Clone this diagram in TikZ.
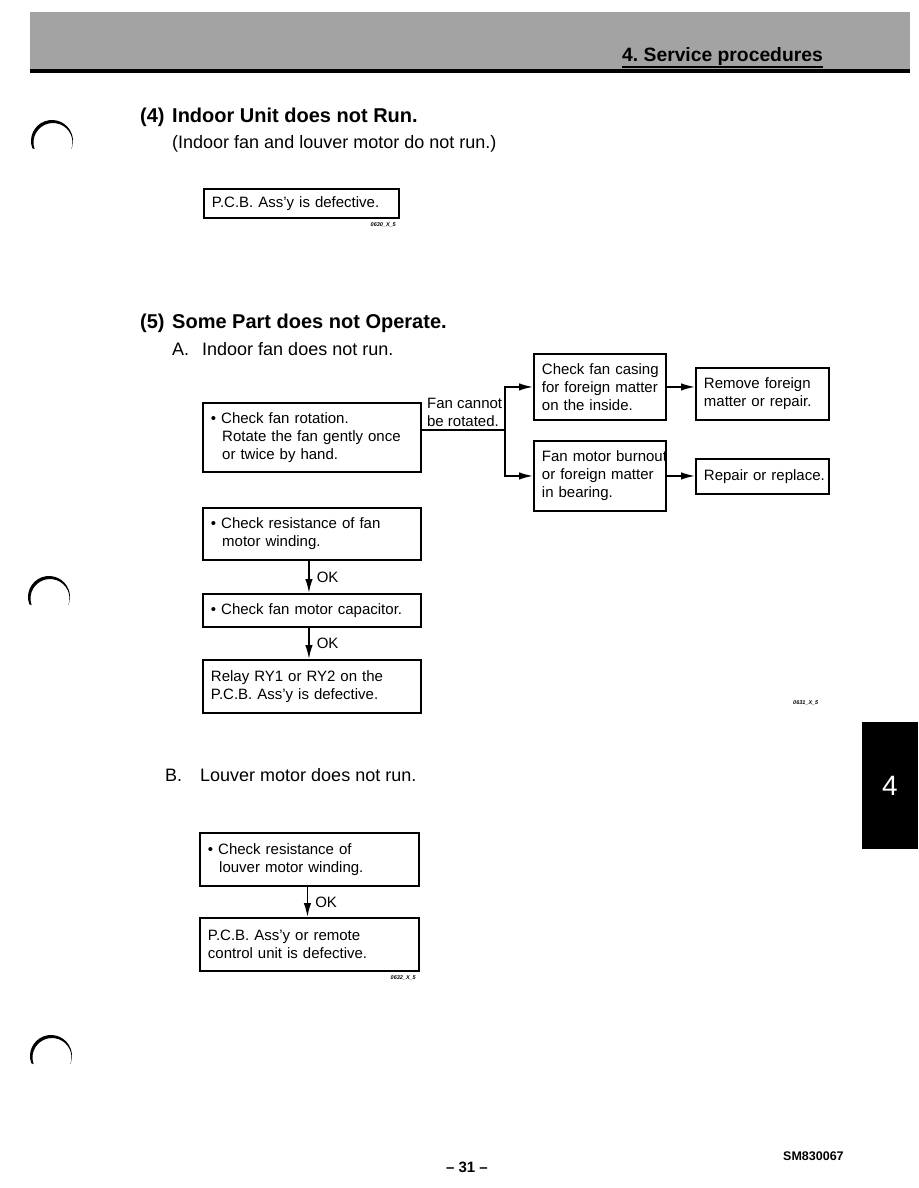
\documentclass[tikz,border=0pt]{standalone}
\usepackage{fontspec}
\setmainfont{Liberation Sans}
\usetikzlibrary{arrows.meta}
\begin{document}
\begin{tikzpicture}[x=1pt,y=-1pt,
  box/.style={draw, line width=1.9pt, anchor=north west, align=left,
    inner xsep=8pt, inner ysep=0pt,
    font=\fontsize{15}{18}\selectfont,
    execute at begin node=\hyphenpenalty10000\relax\exhyphenpenalty10000\relax},
  conn/.style={line width=1.6pt},
  arr/.style={-{Latex[length=14pt,width=7.5pt]}},
  lbl/.style={font=\fontsize{15}{18}\selectfont, inner sep=0pt},
  code/.style={font=\fontsize{5.5}{6}\bfseries\itshape, inner sep=0pt},
  head/.style={font=\fontsize{20}{24}\bfseries\selectfont, inner sep=0pt, anchor=base west},
  sub/.style={font=\fontsize{18}{22}\selectfont, inner sep=0pt, anchor=base west}]
\useasboundingbox (0,0) rectangle (918,1188);

% header band
\fill[black!36] (30,12) rectangle (910,71);
\fill[black] (30,69) rectangle (910,73);
\node[font=\fontsize{19.3}{22}\bfseries\selectfont, inner sep=0pt, anchor=base west] (hdr) at (622,62) {4.\ Service procedures};
\draw[line width=1.8pt] (hdr.base west |- 0,67) -- (hdr.base east |- 0,67);

% punch holes (crescents)
\coordinate (p1) at (52,141);
\coordinate (p2) at (49,597);
\coordinate (p3) at (51,1056);
\foreach \p in {p1,p2,p3}{
  \fill (\p) ++(160:21) arc[start angle=160,end angle=380,radius=21]
    -- ++(-0.41,0.99) arc[start angle=380,end angle=160,radius=19.5] -- cycle;
}

% section (4)
\node[head] (n4) at (140,123) {(4)};
\node[head] (h4) at (172,123) {Indoor Unit does not Run.};
\node[sub] (s4) at (172,148) {(Indoor fan and louver motor do not run.)};
\node[box, minimum width=195pt, text width=179pt, minimum height=29pt] (pcb) at (203,188) {P.C.B. Ass'y is defective.};
\node[code, anchor=north east] (c1) at (396,222) {0630\_X\_5};

% section (5)
\node[head] (n5) at (140,328) {(5)};
\node[head] (h5) at (172,328) {Some Part does not Operate.};
\node[sub] (a5) at (172,355) {A.};
\node[sub] (a5t) at (202,355) {Indoor fan does not run.};

\node[box, minimum width=218pt, text width=202pt, minimum height=69pt] (rot) at (202,402)
  {• Check fan rotation.\\\hspace*{0.75em}Rotate the fan gently once\\\hspace*{0.75em}or twice by hand.};
\node[box, minimum width=132pt, text width=116pt, minimum height=66pt] (casing) at (533,353)
  {Check~fan~casing\\for~foreign~matter\\on the inside.};
\node[box, minimum width=133pt, text width=117pt, minimum height=52pt] (remove) at (695,367)
  {Remove~foreign\\matter~or~repair.};
\node[box, minimum width=132pt, text width=116pt, minimum height=70pt] (motor) at (533,440)
  {Fan~motor~burnout\\or~foreign~matter\\in bearing.};
\node[box, minimum width=133pt, text width=117pt, minimum height=35pt] (replace) at (695,458)
  {Repair~or~replace.};

\coordinate (j1) at (505,430);
\draw[conn] (rot.east |- j1) -- (j1);
\node[lbl, anchor=south west, align=left, inner xsep=5pt, inner ysep=3pt] (fc) at (rot.east |- j1) {Fan cannot\\be rotated.};
\draw[conn,arr] (j1) |- (casing.west);
\draw[conn,arr] (j1) |- (motor.west);
\draw[conn,arr] (casing.east) -- (casing.east -| remove.west);
\draw[conn,arr] (motor.east) -- (motor.east -| replace.west);

\node[box, minimum width=218pt, text width=202pt, minimum height=52pt] (resfan) at (202,507)
  {• Check resistance of fan\\\hspace*{0.75em}motor winding.};
\node[box, minimum width=218pt, text width=202pt, minimum height=33pt] (cap) at (202,593)
  {• Check fan motor capacitor.};
\node[box, minimum width=218pt, text width=202pt, minimum height=53pt] (relay) at (202,659)
  {Relay RY1 or RY2 on the\\P.C.B. Ass'y is defective.};
\draw[conn,arr] ([xshift=-3pt]resfan.south) -- node[lbl, right=7pt] {OK} ([xshift=-3pt]cap.north);
\draw[conn,arr] ([xshift=-3pt]cap.south) -- node[lbl, right=7pt] {OK} ([xshift=-3pt]relay.north);
\node[code, anchor=west] (c2) at (793,703) {0631\_X\_5};

% B
\node[sub] (b5) at (165,781) {B.};
\node[sub] (b5t) at (200,781) {Louver motor does not run.};
\node[box, minimum width=219pt, text width=203pt, minimum height=53pt] (louv) at (199,832)
  {• Check resistance of\\\hspace*{0.75em}louver motor winding.};
\node[box, minimum width=219pt, text width=203pt, minimum height=53pt] (pcbrem) at (199,917)
  {P.C.B. Ass'y or remote\\control unit is defective.};
\draw[conn,arr] ([xshift=-2pt]louv.south) -- node[lbl, right=7pt] {OK} ([xshift=-2pt]pcbrem.north);
\node[code, anchor=north east] (c3) at (416,975) {0632\_X\_5};

% tab
\fill[black] (862,722) rectangle (918,849);
\node[white, font=\fontsize{28}{30}\selectfont, inner sep=0pt] (tab) at (890,786) {4};

% footer
\node[font=\fontsize{15}{18}\bfseries\selectfont, inner sep=0pt, anchor=base] (pg) at (467,1172) {– 31 –};
\node[font=\fontsize{12.5}{15}\bfseries\selectfont, inner sep=0pt, anchor=base west] (sm) at (783,1160) {SM830067};
\end{tikzpicture}
\end{document}
